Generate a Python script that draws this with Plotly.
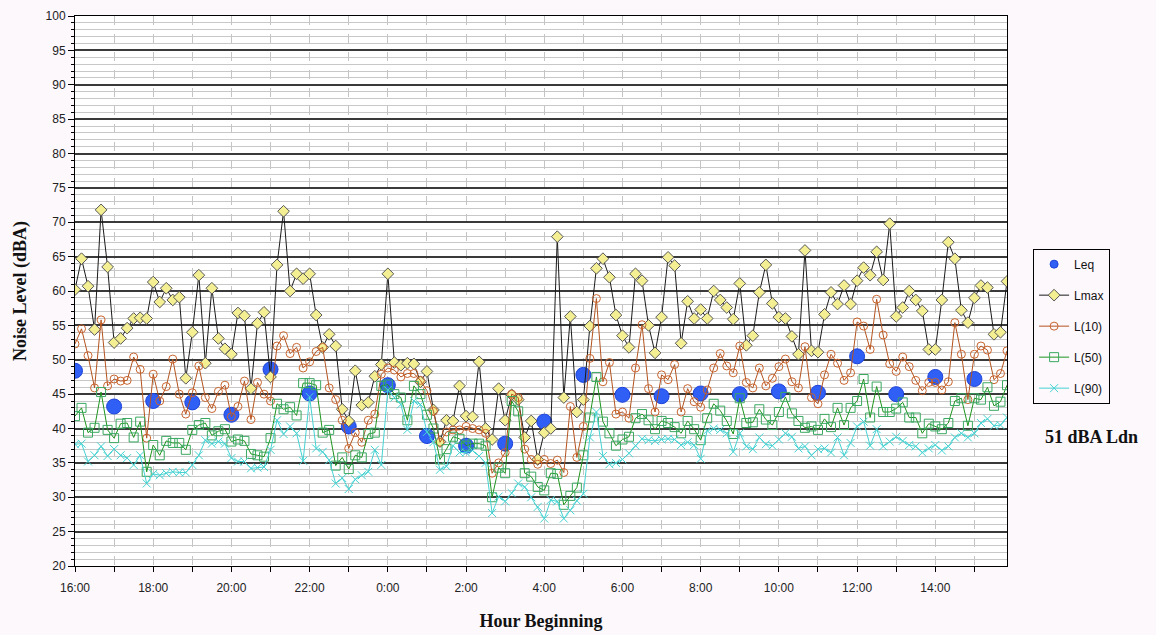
import datetime as dt
import plotly.graph_objects as go

# ---------------- data (10-minute intervals starting 16:00) ----------------
start = dt.datetime(2024, 1, 1, 16, 0)
n_points = 144
times = [start + dt.timedelta(minutes=10 * i) for i in range(n_points)]
leq_times = [start + dt.timedelta(hours=h) for h in range(24)]

leq = [48.4, 43.2, 44.0, 43.8, 42.0, 48.6, 45.1, 40.3, 46.3, 38.9, 37.5, 37.8,
       41.0, 47.8, 44.9, 44.7, 45.1, 45.0, 45.4, 45.2, 50.5, 45.0, 47.5, 47.2]

lmax = [60.2, 64.7, 60.7, 54.4, 71.8, 63.5, 52.5, 53.1, 54.6, 56.0, 56.1, 56.0,
        61.3, 58.4, 60.4, 58.7, 59.1, 47.3, 54.0, 62.3, 49.5, 60.4, 53.1, 51.6,
        50.8, 56.8, 56.4, 45.8, 55.3, 56.9, 47.5, 63.8, 71.6, 60.0, 62.5, 61.8,
        62.5, 56.5, 51.8, 53.7, 52.0, 42.8, 41.1, 48.4, 43.4, 43.8, 47.6, 49.3,
        62.5, 49.6, 49.2, 49.5, 49.4, 46.8, 48.3, 42.7, 38.1, 41.2, 41.1, 46.2,
        41.8, 41.7, 49.7, 40.0, 38.4, 45.8, 41.2, 44.9, 44.2, 38.7, 41.1, 35.5,
        39.4, 40.0, 67.9, 44.5, 56.3, 42.4, 44.2, 54.9, 63.3, 64.7, 62.0, 56.5,
        53.5, 51.8, 62.5, 61.5, 55.0, 51.0, 56.2, 64.9, 63.7, 52.4, 58.5, 56.0,
        57.3, 56.0, 60.0, 58.7, 57.6, 55.9, 61.1, 52.1, 53.5, 59.8, 63.8, 58.2,
        56.2, 56.0, 53.4, 50.8, 65.9, 51.3, 51.1, 56.6, 59.8, 58.1, 60.8, 58.1,
        61.5, 63.4, 62.3, 65.7, 61.6, 69.8, 56.3, 57.6, 60.0, 58.7, 57.1, 51.5,
        51.5, 58.7, 67.1, 64.7, 57.2, 55.4, 59.0, 60.8, 60.5, 53.7, 54.0, 61.4]

l10 = [52.3, 54.5, 50.6, 45.9, 55.8, 46.2, 47.2, 46.9, 47.0, 50.4, 48.6, 38.6,
       47.9, 44.0, 46.1, 50.1, 45.0, 42.1, 45.2, 49.1, 44.5, 42.9, 45.4, 46.3,
       41.7, 43.2, 46.9, 41.3, 46.7, 45.0, 44.0, 52.0, 53.5, 50.9, 51.8, 48.8,
       49.7, 51.2, 51.8, 45.9, 44.2, 41.2, 37.1, 39.4, 38.0, 41.2, 42.1, 47.9,
       48.8, 48.5, 47.5, 48.0, 48.0, 47.0, 45.5, 42.5, 38.0, 39.5, 39.8, 39.8,
       40.3, 40.0, 39.8, 39.3, 33.5, 35.0, 36.5, 45.0, 44.5, 37.0, 35.5, 34.8,
       35.5, 34.9, 35.4, 33.6, 43.2, 35.8, 40.3, 50.2, 58.9, 46.8, 49.6, 42.1,
       42.4, 41.5, 48.8, 55.1, 45.8, 42.4, 47.8, 47.1, 49.3, 42.4, 45.8, 43.9,
       43.1, 45.6, 48.8, 50.9, 49.1, 48.1, 52.0, 46.7, 45.9, 48.8, 46.2, 47.3,
       49.0, 50.1, 46.8, 45.9, 51.9, 44.5, 43.6, 47.8, 50.8, 49.5, 47.0, 48.1,
       55.5, 54.9, 51.5, 58.8, 53.6, 49.4, 48.3, 50.4, 49.0, 47.0, 45.5, 46.7,
       46.7, 45.6, 46.8, 55.4, 50.8, 44.2, 50.8, 52.0, 51.4, 47.1, 48.0, 51.3]

l50 = [41.8, 43.0, 39.4, 40.1, 45.3, 39.8, 38.6, 40.7, 40.8, 38.7, 41.0, 33.7,
       37.6, 36.1, 38.2, 37.9, 37.9, 36.9, 39.8, 40.5, 40.8, 39.0, 39.6, 39.9,
       38.1, 38.4, 38.2, 36.3, 36.1, 35.9, 38.6, 43.6, 42.8, 43.1, 41.9, 46.6,
       46.6, 46.3, 39.4, 39.8, 34.6, 35.8, 34.1, 36.1, 35.8, 39.2, 39.4, 46.2,
       46.4, 45.0, 44.5, 41.2, 46.2, 45.0, 42.0, 40.0, 35.5, 37.0, 38.8, 38.5,
       37.5, 37.8, 37.8, 37.5, 30.0, 34.3, 33.5, 44.0, 42.5, 33.5, 33.0, 31.5,
       31.0, 33.5, 33.4, 28.9, 30.2, 31.4, 36.1, 41.6, 47.5, 41.0, 39.3, 37.5,
       38.4, 38.8, 41.5, 42.1, 41.2, 39.9, 41.1, 40.8, 40.2, 39.3, 41.1, 39.9,
       38.3, 41.5, 43.6, 42.6, 41.1, 39.2, 44.4, 40.8, 40.9, 42.8, 41.3, 40.5,
       42.4, 44.6, 42.2, 41.1, 40.1, 40.3, 39.8, 41.4, 40.2, 43.0, 40.5, 43.0,
       44.0, 47.2, 41.6, 46.1, 42.4, 42.4, 42.9, 43.8, 41.6, 41.6, 39.3, 40.7,
       40.3, 39.9, 40.8, 44.0, 44.4, 40.4, 44.4, 44.2, 46.0, 43.3, 43.9, 46.3]

l90 = [37.7, 37.8, 35.2, 36.1, 37.4, 36.0, 37.0, 36.1, 35.7, 34.7, 36.1, 32.0,
       33.4, 33.2, 33.5, 33.7, 33.6, 33.6, 34.7, 36.1, 38.3, 37.8, 38.1, 37.8,
       35.7, 35.2, 35.2, 34.2, 34.3, 34.4, 36.9, 41.2, 39.2, 40.3, 39.3, 35.3,
       44.6, 37.1, 36.6, 35.4, 32.0, 32.8, 31.2, 32.6, 33.2, 33.7, 36.9, 34.7,
       45.6, 44.5, 43.5, 39.8, 44.0, 43.5, 39.5, 38.0, 34.0, 34.5, 37.5, 36.5,
       36.5, 36.8, 36.0, 35.0, 27.7, 30.1, 29.4, 30.6, 32.0, 31.5, 30.0, 28.6,
       26.9, 29.6, 29.4, 26.9, 28.1, 29.5, 30.5, 38.7, 42.4, 36.0, 34.8, 35.0,
       35.5, 36.4, 37.5, 38.5, 38.3, 38.2, 38.4, 38.5, 38.4, 37.6, 38.0, 37.6,
       35.6, 39.7, 40.0, 39.8, 39.3, 36.6, 39.3, 37.4, 37.0, 38.7, 37.7, 37.5,
       38.4, 39.3, 38.8, 37.1, 37.4, 36.1, 37.0, 37.1, 36.5, 38.7, 36.1, 37.9,
       40.3, 41.0, 37.5, 39.9, 37.4, 38.1, 38.8, 38.2, 37.6, 37.4, 36.5, 37.1,
       37.6, 36.8, 37.4, 38.7, 39.3, 38.7, 39.3, 40.8, 41.4, 40.4, 40.5, 41.6]

# ---------------- styling ----------------
PAGE_BG = "#fcf8fc"
SANS = "Liberation Sans, Arial, sans-serif"
SERIF = "Liberation Serif, Times New Roman, serif"
LEQ_COLOR = "#2f5ff5"

fig = go.Figure()

fig.add_trace(go.Scatter(
    x=leq_times, y=leq, mode="markers", name="Leq", legendgroup="a",
    showlegend=False,
    marker=dict(symbol="circle", size=15, color=LEQ_COLOR,
                line=dict(color="#1d43d8", width=1)),
))
# legend-only entry with a small dot, as in the original legend
fig.add_trace(go.Scatter(
    x=[None], y=[None], mode="markers", name="Leq", legendgroup="a",
    marker=dict(symbol="circle", size=8, color=LEQ_COLOR,
                line=dict(color="#1d43d8", width=1)),
))
fig.add_trace(go.Scatter(
    x=times, y=lmax, mode="lines+markers", name="Lmax", legendgroup="b",
    line=dict(color="#1a1a1a", width=1),
    marker=dict(symbol="diamond", size=9, color="#f4ef93",
                line=dict(color="#555555", width=1)),
))
fig.add_trace(go.Scatter(
    x=times, y=l10, mode="lines+markers", name="L(10)", legendgroup="c",
    line=dict(color="#b4531e", width=1),
    marker=dict(symbol="circle-open", size=8, color="#c8642e",
                line=dict(width=1)),
))
fig.add_trace(go.Scatter(
    x=times, y=l50, mode="lines+markers", name="L(50)", legendgroup="d",
    line=dict(color="#1e951e", width=1),
    marker=dict(symbol="square-open", size=9, color="#3aa860",
                line=dict(width=1)),
))
fig.add_trace(go.Scatter(
    x=times, y=l90, mode="lines+markers", name="L(90)", legendgroup="e",
    line=dict(color="#45d2d2", width=1),
    marker=dict(symbol="x-thin-open", size=8, color="#45d2d2",
                line=dict(width=1, color="#45d2d2")),
))

fig.update_layout(
    width=1156, height=635,
    margin=dict(l=75, r=149, t=16, b=69, autoexpand=False),
    paper_bgcolor=PAGE_BG, plot_bgcolor="white",
    font=dict(family=SANS, size=12, color="#222222"),
    showlegend=True,
    legend=dict(
        x=1.028, y=0.577, xanchor="left", yanchor="top",
        bgcolor=PAGE_BG, bordercolor="#000000", borderwidth=1,
        font=dict(family=SANS, size=12, color="#111111"),
        traceorder="grouped", tracegroupgap=12,
    ),
    annotations=[dict(
        text="<b>51 dBA Ldn</b>", xref="paper", yref="paper",
        x=1.091, y=0.235, xanchor="center", yanchor="middle",
        showarrow=False, font=dict(family=SERIF, size=18, color="#111111"),
    )],
)

fig.update_xaxes(
    type="date",
    range=[times[0], times[-1]],
    tick0=start, dtick=2 * 3600 * 1000,
    tickformat="%-H:%M",
    ticks="outside", ticklen=5, tickcolor="#000000",
    ticklabelstandoff=6,
    showgrid=True, gridcolor="#c4c4c4", gridwidth=1, griddash="dash",
    minor=dict(dtick=3600 * 1000, tick0=start, showgrid=True,
               gridcolor="#c4c4c4", griddash="dash",
               ticks="outside", ticklen=5, tickcolor="#000000"),
    showline=True, linecolor="#000000", linewidth=1, mirror=True,
    zeroline=False,
    tickfont=dict(family=SANS, size=12, color="#222222"),
    title=dict(text="<b>Hour Beginning</b>", standoff=19,
               font=dict(family=SERIF, size=18, color="#111111")),
)

fig.update_yaxes(
    range=[20, 100], dtick=5, tick0=0,
    ticks="outside", ticklen=6, tickcolor="#000000",
    showgrid=True, gridcolor="#3a3a3a", gridwidth=1.5,
    minor=dict(dtick=1, showgrid=True, gridcolor="#c8c8c8", gridwidth=1,
               ticks="outside", ticklen=3, tickcolor="#000000"),
    showline=True, linecolor="#000000", linewidth=1, mirror=True,
    zeroline=False,
    tickfont=dict(family=SANS, size=12, color="#222222"),
    title=dict(text="<b>Noise Level (dBA)</b>", standoff=14,
               font=dict(family=SERIF, size=18, color="#111111")),
)

fig.write_html("out.html")
